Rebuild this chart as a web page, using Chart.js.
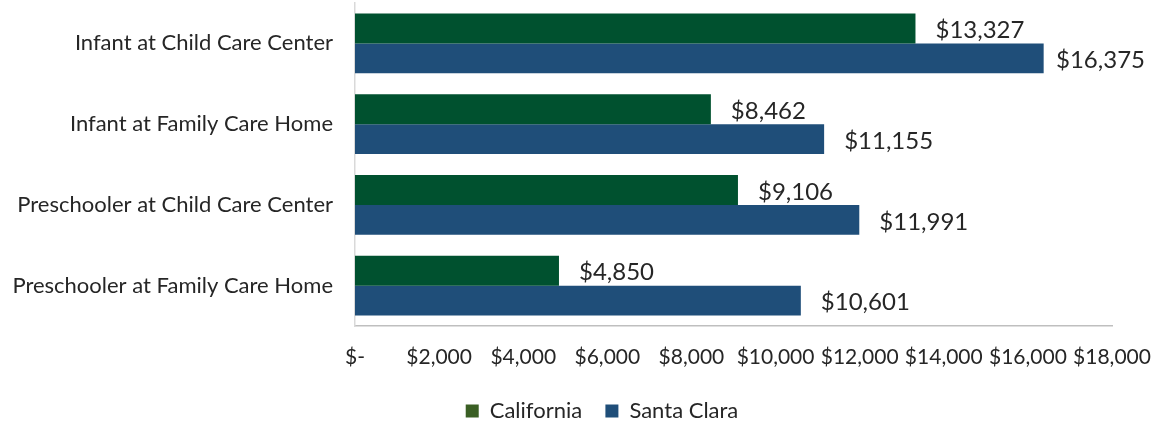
<!DOCTYPE html>
<html>
<head>
<meta charset="utf-8">
<script src="https://cdn.jsdelivr.net/npm/chart.js@4"></script>
<style>
  html, body { margin: 0; padding: 0; background: #fff; }
  #wrap { width: 1157px; height: 422px; }
</style>
</head>
<body>
<div id="wrap"><canvas id="care-chart"></canvas></div>
<script>
'use strict';

// *************** DATA
let categories = [
  'Infant at Child Care Center',
  'Infant at Family Care Home',
  'Preschooler at Child Care Center',
  'Preschooler at Family Care Home'
];
let californiaCosts = [13327, 8462, 9106, 4850];
let santaClaraCosts = [16375, 11155, 11991, 10601];
let seriesNames = ['California', 'Santa Clara'];

// *************** STYLE
let greenBar = '#00512F';
let greenKey = '#3A5F24';
let blueBar = '#1F4E79';
let fontFamily = 'Lato, "Open Sans", sans-serif';
let textColor = '#262626';

function money(v) {
  if (v === 0) return '$-';
  return '$' + v.toLocaleString('en-US');
}

// *********** PLUGIN: value labels after each bar
let valueLabels = {
  id: 'valueLabels',
  afterDatasetsDraw(chart) {
    let c = chart.ctx;
    c.save();
    c.font = '24px ' + fontFamily;
    c.fillStyle = textColor;
    c.textBaseline = 'middle';
    chart.data.datasets.forEach((ds, i) => {
      chart.getDatasetMeta(i).data.forEach((bar, j) => {
        let txt = money(ds.data[j]);
        let w = c.measureText(txt).width;
        let x = bar.x + 20;
        if (x + w > chart.width - 12) x = chart.width - 12 - w;
        c.fillText(txt, x, bar.y + 2);
      });
    });
    c.restore();
  }
};

// *********** PLUGIN: nudge the legend right, like the original
let legendShift = {
  id: 'legendShift',
  afterLayout(chart) {
    if (chart.legend) {
      chart.legend.left += 46;
      chart.legend.right += 46;
    }
  }
};

// keep the axes from reserving room for half labels at the ends
function noEndPadding(scale) {
  scale.paddingTop = 0;
  scale.paddingBottom = 0;
  scale.paddingLeft = 0;
  scale.paddingRight = 0;
}

let ctx = document.getElementById('care-chart');

new Chart(ctx, { // eslint-disable-line
  type: 'bar',
  data: {
    labels: categories,
    datasets: [{
      label: seriesNames[0],
      data: californiaCosts,
      backgroundColor: greenBar,
      categoryPercentage: 0.74,
      barPercentage: 1
    },
    {
      label: seriesNames[1],
      data: santaClaraCosts,
      backgroundColor: blueBar,
      categoryPercentage: 0.74,
      barPercentage: 1
    }]
  },
  options: {
    indexAxis: 'y',
    responsive: true,
    maintainAspectRatio: false,
    animation: false,
    layout: { padding: { top: 3, right: 45, bottom: -10, left: 0 } },
    scales: {
      x: {
        min: 0,
        max: 18000,
        ticks: {
          stepSize: 2000,
          padding: 0,
          color: textColor,
          font: { family: fontFamily, size: 21 },
          maxRotation: 0,
          autoSkip: false,
          callback: (v) => money(v)
        },
        grid: { display: false, drawTicks: true, tickLength: 19 },
        border: { display: true, color: '#BFBFBF', width: 1.5 },
        afterFit: (scale) => { scale.height = 62; noEndPadding(scale); }
      },
      y: {
        ticks: {
          padding: 0,
          color: textColor,
          font: { family: fontFamily, size: 22 }
        },
        grid: { display: false, drawTicks: true, tickLength: 22 },
        border: { display: true, color: '#D9D9D9', width: 1.5 },
        afterFit: (scale) => { scale.width = 355; noEndPadding(scale); }
      }
    },
    plugins: {
      tooltip: { enabled: false },
      legend: {
        position: 'bottom',
        labels: {
          color: textColor,
          font: { family: fontFamily, size: 22 },
          boxWidth: 13,
          boxHeight: 13,
          padding: 12,
          generateLabels: (chart) => {
            let keys = [greenKey, blueBar];
            return chart.data.datasets.map((ds, i) => ({
              // trailing spaces widen the gap between the two keys
              text: i === 0 ? ds.label + '  ' : ds.label,
              fillStyle: keys[i],
              strokeStyle: keys[i],
              lineWidth: 0,
              hidden: false,
              datasetIndex: i,
              fontColor: textColor
            }));
          }
        }
      }
    }
  },
  plugins: [valueLabels, legendShift]
});
</script>
</body>
</html>
